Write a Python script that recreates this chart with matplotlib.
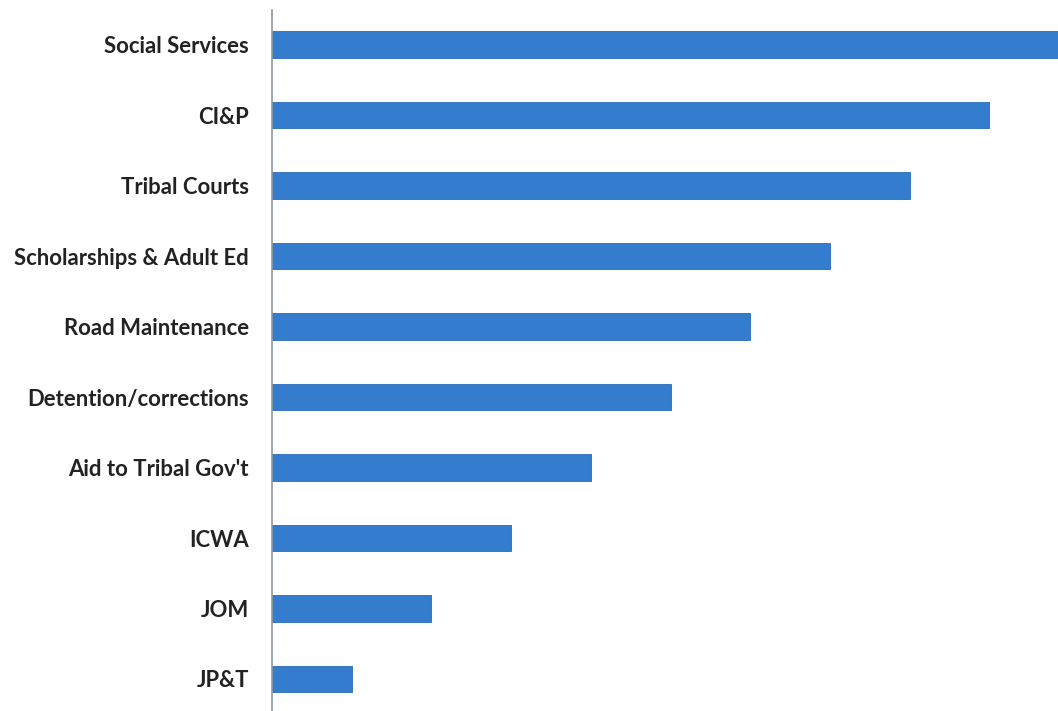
import matplotlib.pyplot as plt

# categorias de abajo hacia arriba
categorias = ['JP&T', 'JOM', 'ICWA', "Aid to Tribal Gov't", 'Detention/corrections',
              'Road Maintenance', 'Scholarships & Adult Ed', 'Tribal Courts', 'CI&P',
              'Social Services']
valores = [1, 2, 3, 4, 5, 6, 7, 8, 9, 10]

fig = plt.figure(figsize=(10.58, 7.11), dpi=100)
ax = fig.add_axes([272 / 1058, 0, 1 - 272 / 1058, 1 - 10 / 711])

pos = list(range(len(categorias)))
ax.barh(pos, valores, height=0.38, color='#347cce', edgecolor='#2a6bb5', linewidth=0.6)

ax.set_xlim(0, 9.86)
ax.set_ylim(-0.454, 9.49)
ax.set_yticks(pos)
ax.set_yticklabels(categorias, fontfamily='Lato', fontweight='bold', fontsize=15.9, color='#222222')
ax.tick_params(axis='y', length=0, pad=16.5)
ax.set_xticks([])

for s in ['top', 'right', 'bottom']:
    ax.spines[s].set_visible(False)
ax.spines['left'].set_color('#8a9aa0')
ax.spines['left'].set_linewidth(1.2)

fig.savefig('out.png', dpi=100)
